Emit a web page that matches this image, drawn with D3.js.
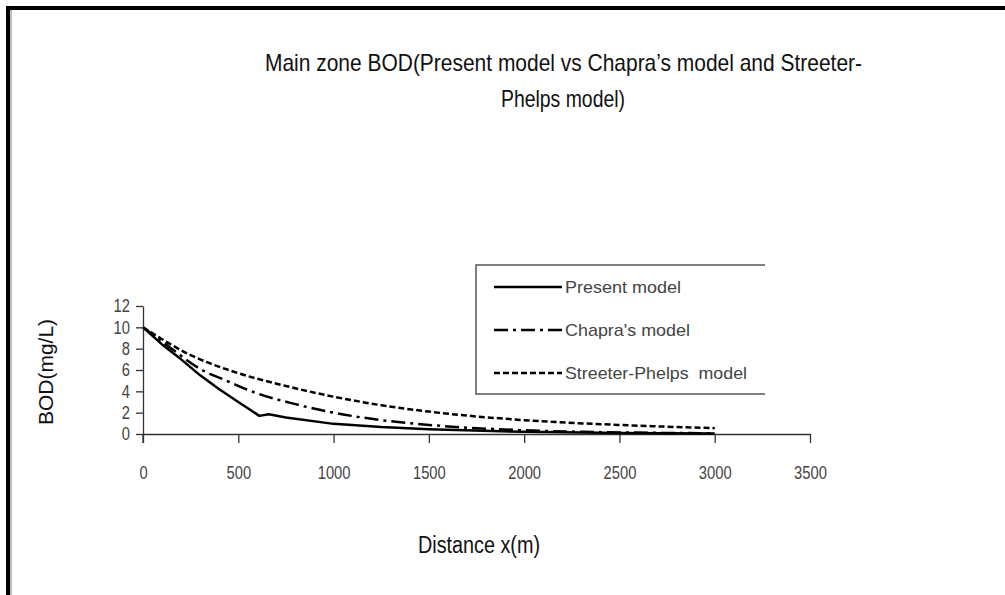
<!DOCTYPE html>
<html>
<head>
<meta charset="utf-8">
<script src="https://cdn.jsdelivr.net/npm/d3@7"></script>
<style>
  body { margin: 0; background: #fff; }
  text { font-family: "Liberation Sans", Arial, sans-serif; white-space: pre; }
</style>
</head>
<body>
<svg id="chart" width="1005" height="595"></svg>
<script>
// distance (m) / BOD (mg/L)
const presentX = [0, 100, 200, 300, 400, 500, 560, 610, 660, 750, 1000, 1250, 1500, 2000, 2500, 3000];
const presentY = [10, 8.4, 7.0, 5.5, 4.2, 3.0, 2.3, 1.7, 1.85, 1.55, 0.95, 0.65, 0.45, 0.2, 0.1, 0.05];
const chapraX = [0, 150, 300, 450, 600, 800, 1000, 1250, 1500, 2000, 2500, 3000];
const chapraY = [10, 8.0, 6.1, 4.9, 3.8, 2.8, 2.0, 1.3, 0.85, 0.35, 0.15, 0.07];
const streeterX = [0, 250, 500, 750, 1000, 1250, 1500, 2000, 2500, 3000];
const streeterY = [10, 7.4, 5.7, 4.5, 3.5, 2.7, 2.1, 1.3, 0.85, 0.55];
const xTicks = [0, 500, 1000, 1500, 2000, 2500, 3000, 3500];
const yTicks = [0, 2, 4, 6, 8, 10, 12];
const seriesNames = ["Present model", "Chapra's model", "Streeter-Phelps  model"];
const legendLen = [116, 125, 182];
const dashes = [null, "14,5,3,5", "6,3"];

const svg = d3.select("#chart");

// frame (left + top edges only)
svg.append("line").attr("x1", 8).attr("x2", 8).attr("y1", 6).attr("y2", 595)
  .attr("stroke", "#000").attr("stroke-width", 4);
svg.append("line").attr("x1", 6).attr("x2", 1005).attr("y1", 8).attr("y2", 8)
  .attr("stroke", "#000").attr("stroke-width", 4);
svg.append("line").attr("x1", 11).attr("x2", 11).attr("y1", 10).attr("y2", 595)
  .attr("stroke", "#aaa").attr("stroke-width", 1.5);

const x = d3.scaleLinear().domain([0, 3500]).range([143, 810]);
const y = d3.scaleLinear().domain([0, 12]).range([434, 306]);

const xAxis = svg.append("g").attr("transform", "translate(0,434)")
  .call(d3.axisBottom(x).tickValues(xTicks).tickFormat(d3.format("d"))
    .tickSize(9).tickSizeOuter(0).tickPadding(23));
const yAxis = svg.append("g").attr("transform", "translate(143,0)")
  .call(d3.axisLeft(y).tickValues(yTicks).tickFormat(d3.format("d"))
    .tickSize(7).tickSizeOuter(0).tickPadding(6));

[xAxis, yAxis].forEach(g => {
  g.selectAll("path, line").attr("stroke", "#333").attr("stroke-width", 1.3);
  g.selectAll("text").attr("fill", "#444").style("font-size", "18px")
    .attr("textLength", d => String(d).length * 8.2)
    .attr("lengthAdjust", "spacingAndGlyphs");
});
// extend y axis line down through the crossing
svg.append("line").attr("x1", 143).attr("x2", 143).attr("y1", 434).attr("y2", 443)
  .attr("stroke", "#333").attr("stroke-width", 1.3);

const series = [
  presentX.map((d, i) => [d, presentY[i]]),
  chapraX.map((d, i) => [d, chapraY[i]]),
  streeterX.map((d, i) => [d, streeterY[i]])
];
const curves = [d3.curveLinear, d3.curveMonotoneX, d3.curveMonotoneX];

series.forEach((s, i) => {
  const line = d3.line().x(d => x(d[0])).y(d => y(d[1])).curve(curves[i]);
  svg.append("path").datum(s).attr("d", line)
    .attr("fill", "none").attr("stroke", "#000").attr("stroke-width", 2.5)
    .attr("stroke-linejoin", "round")
    .attr("stroke-dasharray", dashes[i]);
});

// legend
const lg = svg.append("g");
lg.append("path").attr("d", "M765,265H476V394H765")
  .attr("fill", "none").attr("stroke", "#555").attr("stroke-width", 1.5);
seriesNames.forEach((n, i) => {
  const yy = 287 + i * 43;
  lg.append("line").attr("x1", 494).attr("x2", 562).attr("y1", yy).attr("y2", yy)
    .attr("stroke", "#000").attr("stroke-width", 2.5).attr("stroke-dasharray", dashes[i]);
  lg.append("text").attr("x", 565).attr("y", yy + 6).text(n)
    .attr("fill", "#444").style("font-size", "17px")
    .attr("textLength", legendLen[i]).attr("lengthAdjust", "spacingAndGlyphs");
});

// titles
svg.append("text").attr("x", 265).attr("y", 71)
  .style("font-size", "24px").attr("fill", "#111")
  .attr("textLength", 597).attr("lengthAdjust", "spacingAndGlyphs")
  .text("Main zone BOD(Present model vs Chapra\u2019s model and Streeter-");
svg.append("text").attr("x", 501).attr("y", 107)
  .style("font-size", "24px").attr("fill", "#111")
  .attr("textLength", 124).attr("lengthAdjust", "spacingAndGlyphs")
  .text("Phelps model)");

svg.append("text").attr("x", 418).attr("y", 553)
  .style("font-size", "23px").attr("fill", "#111")
  .attr("textLength", 122).attr("lengthAdjust", "spacingAndGlyphs")
  .text("Distance x(m)");

svg.append("text").attr("transform", "translate(53,372) rotate(-90)")
  .attr("text-anchor", "middle")
  .style("font-size", "21px").attr("fill", "#111").text("BOD(mg/L)");
</script>
</body>
</html>
